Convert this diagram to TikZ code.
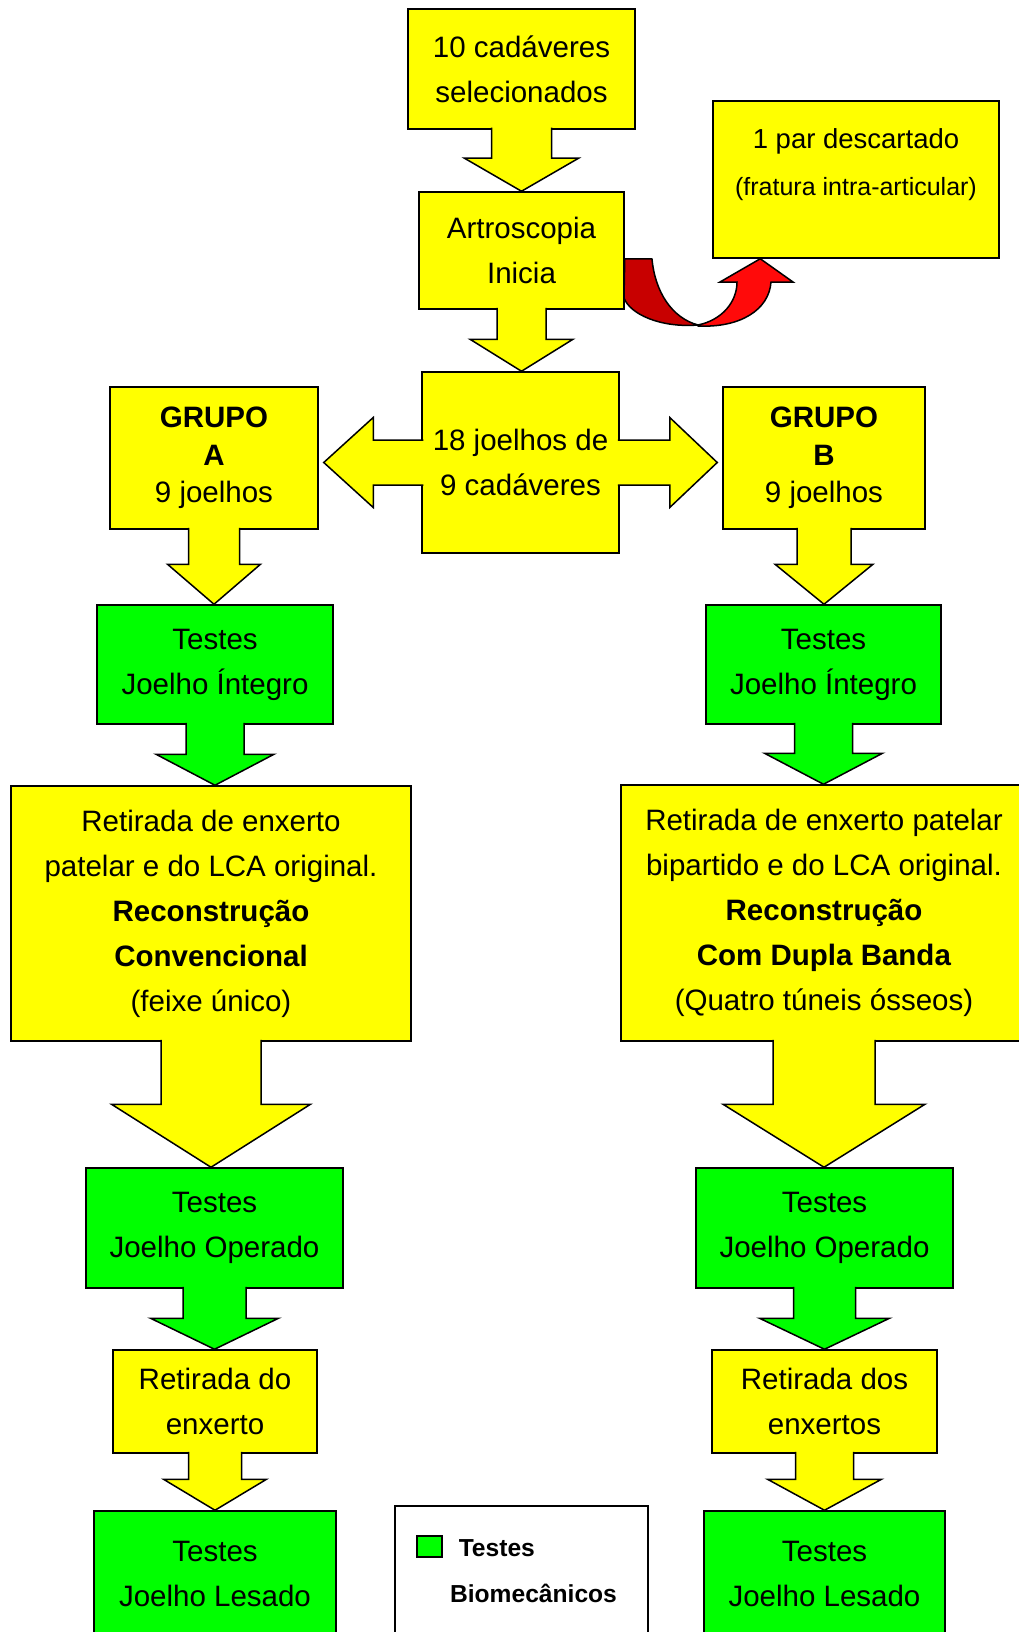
\documentclass[tikz,border=0pt]{standalone}
\usepackage{fontspec}
\setmainfont{Liberation Sans}
\usepackage{tikz}
\usetikzlibrary{calc}

\definecolor{amarelo}{RGB}{255,255,0}
\definecolor{verde}{RGB}{0,255,0}
\definecolor{vermelho}{RGB}{255,10,10}
\definecolor{vermelhoesc}{RGB}{200,0,0}

% seta larga de uma caixa para a seguinte
\newcommand{\seta}[6]{%
  \filldraw[fill=#6] ($(#1.south)+(-#3,-2)$) -- ($(#1.south |- #2.north)+(-#3,-#5)$)
    -- ($(#1.south |- #2.north)+(-#4,-#5)$) -- (#1.south |- #2.north)
    -- ($(#1.south |- #2.north)+(#4,-#5)$) -- ($(#1.south |- #2.north)+(#3,-#5)$)
    -- ($(#1.south)+(#3,-2)$);
}

\begin{document}
\begin{tikzpicture}[x=1pt,y=-1pt,line width=1.5pt,
  caixa/.style={draw,fill=amarelo,align=center,inner sep=0pt,font=\fontsize{29.5}{45}\selectfont},
  teste/.style={caixa,fill=verde}]
\useasboundingbox (0,0) rectangle (1019,1632);
\clip (0,0) rectangle (1019,1632);

% coluna central
\node[caixa,minimum width=227pt,minimum height=120pt] (cad) at (521.5,69) {10 cadáveres\\selecionados};
\node[caixa,minimum width=205pt,minimum height=117pt] (art) at (521.5,250.5) {Artroscopia\\Inicia};
\node[caixa,minimum width=286pt,minimum height=157pt] (desc) at (856,179.5) {};
\node[align=center,font=\fontsize{27.5}{47}\selectfont] (desctxt) at ([yshift=15pt]desc.center)
  {1 par descartado\\{\fontsize{25}{47}\selectfont(fratura intra-articular)}};
\node[caixa,minimum width=197pt,minimum height=181pt] (joe) at (520.5,462.5) {18 joelhos de\\9 cadáveres};

% grupo A
\node[caixa,font=\fontsize{29.5}{37.5}\selectfont,minimum width=208pt,minimum height=142pt] (ga) at (214,458)
  {\textbf{GRUPO}\\\textbf{A}\\9 joelhos};
\node[teste,minimum width=236pt,minimum height=119pt] (ta1) at (215,664.5) {Testes\\Joelho Íntegro};
\node[caixa,minimum width=400pt,minimum height=255pt] (ra) at (211,913.5)
  {Retirada de enxerto\\patelar e do LCA original.\\\textbf{Reconstrução}\\\textbf{Convencional}\\(feixe único)};
\node[teste,minimum width=257pt,minimum height=120pt] (ta2) at (214.5,1228) {Testes\\Joelho Operado};
\node[caixa,minimum width=204pt,minimum height=103pt] (ea) at (215,1401.5) {Retirada do\\enxerto};
\node[teste,minimum width=242pt,minimum height=125pt] (ta3) at (215,1573.5) {Testes\\Joelho Lesado};

% grupo B
\node[caixa,font=\fontsize{29.5}{37.5}\selectfont,minimum width=202pt,minimum height=142pt] (gb) at (824,458)
  {\textbf{GRUPO}\\\textbf{B}\\9 joelhos};
\node[teste,minimum width=235pt,minimum height=119pt] (tb1) at (823.5,664.5) {Testes\\Joelho Íntegro};
\node[caixa,minimum width=406pt,minimum height=256pt] (rb) at (824,913)
  {Retirada de enxerto patelar\\bipartido e do LCA original.\\\textbf{Reconstrução}\\\textbf{Com Dupla Banda}\\(Quatro túneis ósseos)};
\node[teste,minimum width=257pt,minimum height=120pt] (tb2) at (824.5,1228) {Testes\\Joelho Operado};
\node[caixa,minimum width=225pt,minimum height=103pt] (eb) at (824.5,1401.5) {Retirada dos\\enxertos};
\node[teste,minimum width=241pt,minimum height=125pt] (tb3) at (824.5,1573.5) {Testes\\Joelho Lesado};

% legenda
\node[draw,fill=white,minimum width=253pt,minimum height=134pt] (leg) at (521.5,1573) {};
\node[teste,minimum width=25pt,minimum height=21pt] (amostra) at (429.5,1546.5) {};
\node[anchor=west,inner sep=0pt,font=\fontsize{24.6}{30}\selectfont\bfseries] (legtxt) at (458,1548) {Testes};
\node[inner sep=0pt,font=\fontsize{24.6}{30}\selectfont\bfseries] (legtxt2) at (533.5,1593) {Biomecânicos};

% setas
\seta{cad}{art}{30}{57}{33}{amarelo}
\seta{art}{joe}{24.5}{51.5}{32}{amarelo}
\seta{ga}{ta1}{25.5}{46.5}{40}{amarelo}
\seta{gb}{tb1}{27}{49}{40}{amarelo}
\seta{ta1}{ra}{29}{59}{31}{verde}
\seta{tb1}{rb}{29}{59}{31}{verde}
\seta{ra}{ta2}{50}{99.5}{63}{amarelo}
\seta{rb}{tb2}{51}{101}{63}{amarelo}
\seta{ta2}{ea}{31.5}{64}{31}{verde}
\seta{tb2}{eb}{31}{65}{31}{verde}
\seta{ea}{ta3}{26.5}{51.5}{31}{amarelo}
\seta{eb}{tb3}{29}{57}{31}{amarelo}

% seta dupla
\filldraw[fill=amarelo] ($(joe.west)+(2,-22.5)$) -- ($(joe.west)+(-48,-22.5)$) -- ($(joe.west)+(-48,-45)$)
  -- ($(ga.east |- joe.west)+(5,0)$) -- ($(joe.west)+(-48,45)$) -- ($(joe.west)+(-48,22.5)$) -- ($(joe.west)+(2,22.5)$);
\filldraw[fill=amarelo] ($(joe.east)+(-2,-22.5)$) -- ($(joe.east)+(50,-22.5)$) -- ($(joe.east)+(50,-45)$)
  -- ($(gb.west |- joe.east)+(-5,0)$) -- ($(joe.east)+(50,45)$) -- ($(joe.east)+(50,22.5)$) -- ($(joe.east)+(-2,22.5)$);

% seta curva vermelha
\filldraw[fill=vermelhoesc] (art.east |- desc.south) -- (652,259) .. controls (655,292) and (672,318) .. (698,325)
  .. controls (660,328) and (630,314) .. (624,298) -- cycle;
\filldraw[fill=vermelho] (698,325) .. controls (722,320) and (737,302) .. (737,282) -- (720,282)
  -- ($(desc.south west)+(48,0)$) -- (793,282) -- (771,282) .. controls (769,310) and (740,328) .. (698,326) -- cycle;
\end{tikzpicture}
\end{document}
